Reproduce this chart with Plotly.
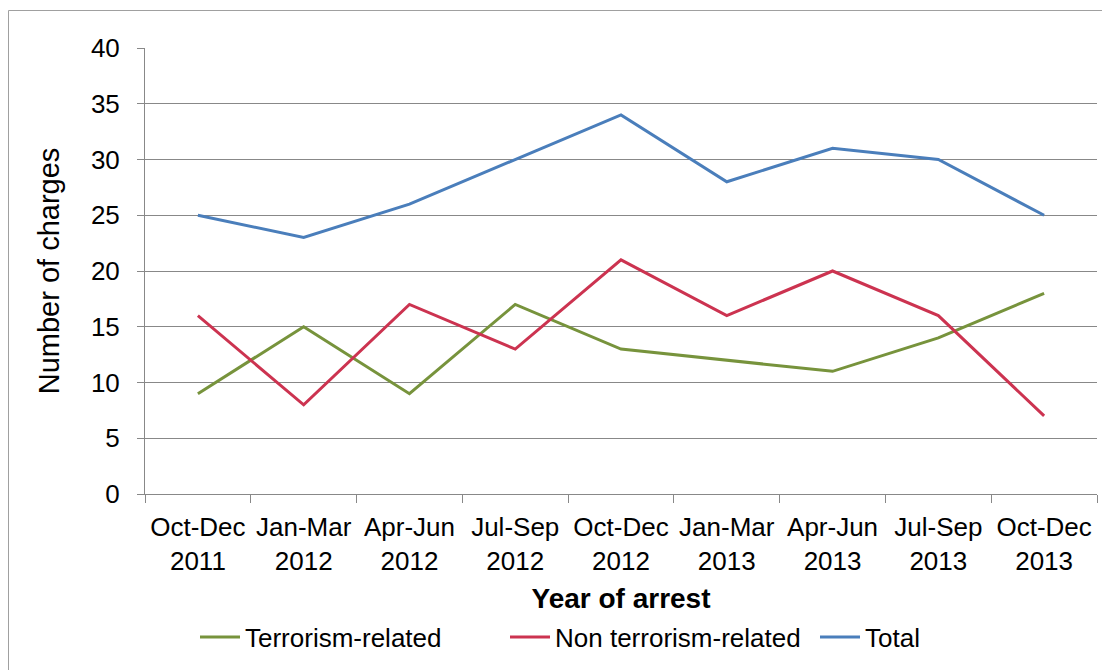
import plotly.graph_objects as go

categories = ["Oct-Dec<br>2011", "Jan-Mar<br>2012", "Apr-Jun<br>2012", "Jul-Sep<br>2012",
              "Oct-Dec<br>2012", "Jan-Mar<br>2013", "Apr-Jun<br>2013", "Jul-Sep<br>2013",
              "Oct-Dec<br>2013"]
terrorism = [9, 15, 9, 17, 13, 12, 11, 14, 18]
non_terrorism = [16, 8, 17, 13, 21, 16, 20, 16, 7]
total = [25, 23, 26, 30, 34, 28, 31, 30, 25]

FONT = "Liberation Sans, Arial, sans-serif"
OFF = 8  # page body margin
W, H = 1102, 662
L, T = 145 - OFF, 48 - OFF
R = W - (1097 - OFF)
B = H - (494 - OFF)

fig = go.Figure()
fig.add_trace(go.Scatter(x=categories, y=terrorism, mode="lines", name="Terrorism-related",
                         line=dict(color="#77933C", width=3)))
fig.add_trace(go.Scatter(x=categories, y=non_terrorism, mode="lines", name="Non terrorism-related",
                         line=dict(color="#CC3350", width=3)))
fig.add_trace(go.Scatter(x=categories, y=total, mode="lines", name="Total",
                         line=dict(color="#4A7EBB", width=3)))

pw = W - L - R
ph = H - T - B

def px_x(sx):
    return (sx - OFF - L) / pw

def px_y(sy):
    return 1 - (sy - OFF - T) / ph

fig.update_layout(
    width=W, height=H, autosize=False,
    margin=dict(l=L, r=R, t=T, b=B, autoexpand=False),
    paper_bgcolor="white", plot_bgcolor="white",
    font=dict(family=FONT, color="black", size=26),
    showlegend=True,
    legend=dict(orientation="h", x=px_x(195), xanchor="left",
                y=px_y(637), yanchor="middle",
                font=dict(size=26, family=FONT), itemwidth=40,
                entrywidth=255, entrywidthmode="pixels",
                bgcolor="rgba(0,0,0,0)", tracegroupgap=0),
    xaxis=dict(
        type="category", range=[-0.5, 8.5], automargin=False,
        showline=True, linecolor="#888888", linewidth=1,
        ticks="outside", tickson="boundaries", ticklen=8, tickcolor="#888888",
        showgrid=False, tickfont=dict(size=26, family=FONT),
        ticklabelstandoff=10,
        title=dict(text="<b>Year of arrest</b>", font=dict(size=28, family=FONT), standoff=13),
    ),
    yaxis=dict(
        range=[0, 40], dtick=5, tick0=0, automargin=False,
        showline=True, linecolor="#888888", linewidth=1,
        ticks="outside", ticklen=7, tickcolor="#888888",
        showgrid=True, gridcolor="#888888", gridwidth=1,
        zeroline=False, tickfont=dict(size=26, family=FONT),
        ticklabelstandoff=12,
        title=dict(text="Number of charges", font=dict(size=29, family=FONT), standoff=22),
    ),
    shapes=[dict(type="rect", xref="paper", yref="paper",
                 x0=px_x(8.5), x1=px_x(1105),
                 y0=px_y(700), y1=px_y(10.5),
                 line=dict(color="#A0A0A0", width=1), layer="below")],
)

fig.write_html("out.html")
